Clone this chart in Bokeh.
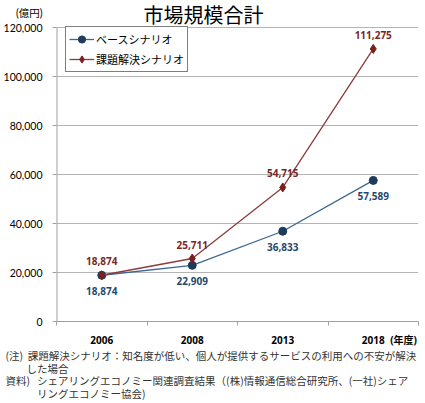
from bokeh.plotting import figure
from bokeh.models import Label, FixedTicker, Range1d, ColumnDataSource, LabelSet, Legend, LegendItem
from bokeh.core.properties import value
from bokeh.embed import file_html
from bokeh.resources import INLINE

years = ["2006", "2008", "2013", "2018"]
base = [18874, 22909, 36833, 57589]
solve = [18874, 25711, 54715, 111275]
base_name = "ベースシナリオ"
solve_name = "課題解決シナリオ"
title_text = "市場規模合計"
unit_text = "(億円)"
year_unit = "(年度)"
y_ticks = [0, 20000, 40000, 60000, 80000, 100000, 120000]
footer_lines = [
    "(注)\u00a0\u00a0課題解決シナリオ：知名度が低い、個人が提供するサービスの利用への不安が解決",
    "\u3000\u3000した場合",
    "資料)\u00a0\u00a0\u00a0シェアリングエコノミー関連調査結果（(株)情報通信総合研究所、(一社)シェア",
    "\u3000\u3000\u3000リングエコノミー協会)",
]

JP = "Noto Sans CJK JP"
NUM = "Lato"
BNUM = "Open Sans"

# layout (pixels)
W, H = 425, 403
FRAME_LEFT, FRAME_RIGHT = 54, 7
TOP_GRID_Y, AXIS_Y = 27, 321          # where 120,000 and 0 sit on the canvas
UNIT_Y = 12.5                         # unit text row
YEAR_UNIT_X = 403                     # centre of the year unit text

p = figure(width=W, height=H, output_backend="svg", toolbar_location=None,
           min_border_left=FRAME_LEFT, min_border_right=FRAME_RIGHT,
           min_border_top=0, min_border_bottom=H - AXIS_Y)
p.outline_line_color = None
ymax = y_ticks[-1]
px_per_unit = (AXIS_Y - TOP_GRID_Y) / ymax
p.x_range = Range1d(0, len(years))
p.y_range = Range1d(0, AXIS_Y / px_per_unit)

xs = [i + 0.5 for i in range(len(years))]
src = ColumnDataSource(dict(x=xs, base=base, solve=solve,
                            base_t=[f"{v:,}" for v in base],
                            solve_t=[f"{v:,}" for v in solve]))

BL, BM, BT = "#3A6890", "#1F3B5C", "#1F4A6E"
RL, RM, RT = "#8E3B3B", "#7A1F1F", "#7A2626"

# y axis line only up to the top gridline
p.segment(x0=[0], y0=[0], x1=[0], y1=[ymax], line_color="#A0A0A0", line_width=2)

l1 = p.line("x", "base", source=src, line_color=BL, line_width=1.3)
m1 = p.scatter("x", "base", source=src, marker="circle", size=8, fill_color=BM, line_color=BM)
l2 = p.line("x", "solve", source=src, line_color=RL, line_width=1.3)
m2 = p.scatter("x", "solve", source=src, marker="diamond", size=9, fill_color=RM, line_color=RM)

p.add_layout(LabelSet(x="x", y="solve", text="solve_t", source=src, text_align="center",
                      text_baseline="middle", y_offset=14, text_font=value(BNUM), text_font_style="bold",
                      text_font_size="10px", text_color=RT))
p.add_layout(LabelSet(x="x", y="base", text="base_t", source=src, text_align="center",
                      text_baseline="middle", y_offset=-16, text_font=value(BNUM), text_font_style="bold",
                      text_font_size="10px", text_color=BT))

# x axis: year labels at band centres, small ticks at band edges, unit text after the last year
x_unit_pos = len(years) - (W - FRAME_RIGHT - YEAR_UNIT_X) / ((W - FRAME_LEFT - FRAME_RIGHT) / len(years))
p.xaxis.ticker = FixedTicker(ticks=xs + [x_unit_pos], minor_ticks=list(range(len(years) + 1)))
over = {x: y for x, y in zip(xs, years)}
over[x_unit_pos] = year_unit
p.xaxis.major_label_overrides = over
p.xaxis.major_tick_line_color = None
p.xaxis.major_tick_out = 0
p.xaxis.major_tick_in = 0
p.xaxis.minor_tick_line_color = "#A0A0A0"
p.xaxis.minor_tick_in = 0
p.xaxis.minor_tick_out = 4
p.xaxis.axis_line_color = "#A0A0A0"
p.xaxis.major_label_text_font = f"'{BNUM}', '{JP}'"
p.xaxis.major_label_text_font_style = "bold"
p.xaxis.major_label_text_font_size = "10px"
p.xaxis.major_label_text_color = "#000000"
p.xaxis.major_label_standoff = 7

# y axis: numeric ticks plus the unit text above the top tick
unit_val = (AXIS_Y - UNIT_Y) / px_per_unit
p.yaxis.ticker = FixedTicker(ticks=y_ticks + [unit_val], minor_ticks=y_ticks)
over_y = {t: f"{t:,}" for t in y_ticks}
over_y[unit_val] = unit_text
p.yaxis.major_label_overrides = over_y
p.yaxis.axis_line_color = None
p.yaxis.major_tick_line_color = None
p.yaxis.major_tick_in = 0
p.yaxis.major_tick_out = 0
p.yaxis.minor_tick_line_color = "#A0A0A0"
p.yaxis.minor_tick_in = 0
p.yaxis.minor_tick_out = 4
p.yaxis.major_label_text_font = f"'{NUM}', '{JP}'"
p.yaxis.major_label_text_font_size = "10.5px"
p.yaxis.major_label_text_color = "#000000"
p.yaxis.major_label_standoff = 10

p.xgrid.grid_line_color = None
p.ygrid.ticker = FixedTicker(ticks=y_ticks)
p.ygrid.grid_line_color = "#B4B4B4"
p.ygrid.grid_line_width = 1

legend = Legend(items=[LegendItem(label=base_name, renderers=[l1, m1]),
                       LegendItem(label=solve_name, renderers=[l2, m2])],
                location=(9, AXIS_Y - 72))
legend.border_line_color = "#000000"
legend.border_line_width = 1
legend.background_fill_alpha = 1
legend.padding = 3
legend.spacing = 2
legend.margin = 0
legend.glyph_width = 25
legend.glyph_height = 18
legend.label_height = 18
legend.label_standoff = 2
legend.label_text_font = JP
legend.label_text_font_size = "11px"
legend.label_text_color = "#000000"
p.add_layout(legend, "center")

p.add_layout(Label(x=203, y=14, x_units="canvas", y_units="canvas", text=title_text,
                   text_font=JP, text_font_size="20px", text_align="center",
                   text_baseline="middle", text_color="#000000"))

p.add_layout(Label(x=5, y=374, x_units="canvas", y_units="canvas", text="\n".join(footer_lines),
                   text_font=JP, text_font_size="10.5px", text_align="left", text_line_height=0.85,
                   text_baseline="middle", text_color="#333333"), "below")

open("out.html", "w").write(file_html(p, INLINE))
